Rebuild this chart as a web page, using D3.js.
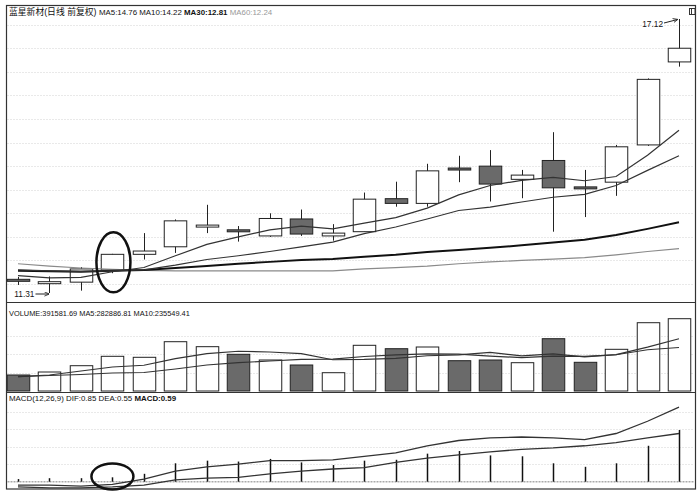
<!DOCTYPE html>
<html><head><meta charset="utf-8">
<script src="https://cdn.jsdelivr.net/npm/d3@7"></script>
<style>body{margin:0;background:#fff}svg{display:block}</style>
</head><body>
<svg id="c" width="700" height="491"></svg>
<script>
// ---------- data ----------
const days = d3.range(1, 23).map(d => "D" + d);
const opens  = [11.60,11.52,11.54,11.80,12.13,12.29,12.72,12.65,12.52,12.88,12.52,12.61,13.31,13.21,13.96,14.00,13.72,14.12,13.56,13.66,14.45,16.21];
const closes = [11.56,11.55,11.82,12.13,12.20,12.84,12.75,12.62,12.89,12.56,12.58,13.30,13.21,13.90,13.94,13.62,13.81,13.54,13.54,14.41,15.84,16.50];
const highs  = [11.65,11.66,11.86,12.14,12.58,12.87,13.18,12.73,13.00,13.08,12.77,13.44,13.67,14.05,14.22,14.34,13.92,14.72,13.92,14.45,15.86,17.12];
const lows   = [11.48,11.31,11.36,11.73,12.02,12.16,12.58,12.40,12.50,12.52,12.42,12.61,13.14,13.14,13.66,13.25,13.32,12.61,12.92,13.37,14.43,16.11];
const ma5  = [11.68,11.63,11.64,11.76,11.85,12.10,12.34,12.50,12.65,12.73,12.67,12.79,12.91,13.11,13.39,13.59,13.70,13.76,13.69,13.78,14.23,14.76];
const ma10 = [11.80,11.78,11.77,11.78,11.80,11.90,12.02,12.10,12.19,12.29,12.39,12.57,12.71,12.88,13.06,13.13,13.24,13.34,13.40,13.59,13.91,14.22];
const ma30 = [11.78,11.77,11.76,11.78,11.80,11.84,11.88,11.93,11.97,12.01,12.03,12.08,12.12,12.18,12.22,12.27,12.32,12.38,12.44,12.54,12.67,12.81];
const ma60 = [11.93,11.88,11.84,11.81,11.79,11.78,11.78,11.78,11.78,11.78,11.78,11.82,11.85,11.88,11.93,11.97,12.00,12.03,12.06,12.12,12.19,12.25];
const volumes = [86700,102900,137000,187900,182500,267000,240000,198800,167900,140800,99100,247500,229100,238300,164100,167900,153300,283300,155400,225800,369900,391581.69];
const volMa5  = [77400,86700,108300,130000,139400,175460,202880,215240,211240,202900,169320,170820,176880,190960,195620,209380,190540,201380,184800,197140,237540,282886.81];
const volMa10 = [77400,84000,89400,97500,100200,119000,140800,153300,162500,171150,172390,186850,196060,201100,199260,189350,180680,189130,187880,196380,223460,235549.41];
const dif  = [-0.04,-0.04,-0.05,-0.03,0.03,0.12,0.17,0.20,0.24,0.24,0.25,0.29,0.33,0.41,0.47,0.50,0.51,0.50,0.48,0.55,0.69,0.85];
const dea  = [-0.06,-0.07,-0.07,-0.06,-0.04,0.02,0.04,0.05,0.09,0.12,0.145,0.16,0.22,0.27,0.305,0.34,0.37,0.385,0.41,0.445,0.50,0.55];
const macd = [0.03,0.04,0.04,0.05,0.09,0.21,0.24,0.23,0.26,0.22,0.19,0.24,0.25,0.32,0.35,0.30,0.29,0.21,0.17,0.21,0.41,0.59];
const priceTicks = [11.5,12.0,12.5,13.0,13.5,14.0,14.5,15.0,15.5,16.0,16.5,17.0];
const volTicks = [100000,200000,300000];
const macdTicks = [0.2,0.4,0.6,0.8];
const stockName = "蓝星新材(日线 前复权)";
const maLabels = ["MA5:14.76","MA10:14.22","MA30:12.81","MA60:12.24"];
const volLabel = "VOLUME:391581.69 MA5:282886.81 MA10:235549.41";
const macdLabel = "MACD(12,26,9) DIF:0.85 DEA:0.55 ";
const macdVal = "MACD:0.59";
const highLabel = "17.12", lowLabel = "11.31";

// ---------- setup ----------
const svg = d3.select("#c");
const FONT = '"Liberation Sans", Arial, "Noto Sans CJK SC", sans-serif';
const L = 6.5, R = 695.5, T = 5.5, B = 489;
const x = d3.scalePoint().domain(days).range([18, 679]);
const bw = 22.5;
const y = d3.scaleLinear().domain([11.31, 17.12]).range([293, 19]);
const yv = d3.scaleLinear().domain([0, 391581.69]).range([391, 318.7]);
const ym = d3.scaleLinear().domain([0, 0.59]).range([481.7, 430]);
const down = i => closes[i] < opens[i];
const DARK = "#6a6a6a";

svg.append("defs").append("marker").attr("id","ah").attr("viewBox","0 0 6 6")
  .attr("refX",5.5).attr("refY",3).attr("markerWidth",5).attr("markerHeight",5).attr("orient","auto")
  .append("path").attr("d","M0,0.5 L6,3 L0,5.5").attr("fill","none").attr("stroke","#222").attr("stroke-width",1);

// grids
function grid(vals, sc){
  svg.append("g").selectAll("line").data(vals).join("line")
    .attr("x1", L+1).attr("x2", R-1).attr("y1", d => Math.round(sc(d))+0.5).attr("y2", d => Math.round(sc(d))+0.5)
    .attr("stroke","#d2d2d2").attr("stroke-width",1).attr("stroke-dasharray","1,2");
}
grid(priceTicks, y); grid(volTicks, yv); grid(macdTicks, ym);
svg.append("line").attr("x1",L+1).attr("x2",R-1).attr("y1",ym(0)).attr("y2",ym(0))
  .attr("stroke","#aaa").attr("stroke-width",1.5).attr("stroke-dasharray","2,1");

// candles
const cg = svg.append("g");
days.forEach((d,i) => {
  const cx = Math.round(x(d)) + 0.5;
  cg.append("line").attr("x1",cx).attr("x2",cx).attr("y1",y(highs[i])).attr("y2",y(lows[i]))
    .attr("stroke","#222").attr("stroke-width",1);
  const top = y(Math.max(opens[i],closes[i])), bot = y(Math.min(opens[i],closes[i]));
  const h = Math.max(bot-top, 2);
  cg.append("rect").attr("x",cx-bw/2).attr("y",top).attr("width",bw).attr("height",h)
    .attr("fill", down(i) ? DARK : "#fff").attr("stroke","#222").attr("stroke-width",1);
});

// MA lines
function ml(arr, sc, color, w){
  svg.append("path").datum(arr)
    .attr("d", d3.line().x((v,i)=>x(days[i])).y(v=>sc(v)))
    .attr("fill","none").attr("stroke",color).attr("stroke-width",w);
}
ml(ma60, y, "#8a8a8a", 1.2);
ml(ma30, y, "#111", 2);
ml(ma10, y, "#333", 1.2);
ml(ma5, y, "#333", 1.2);

// volume bars
svg.append("g").selectAll("rect").data(volumes).join("rect")
  .attr("x",(v,i)=>Math.round(x(days[i]))+0.5-bw/2).attr("y",v=>yv(v))
  .attr("width",bw).attr("height",v=>yv(0)-yv(v))
  .attr("fill",(v,i)=>down(i)?DARK:"#fff").attr("stroke","#222").attr("stroke-width",1);
ml(volMa10, yv, "#333", 1.2);
ml(volMa5, yv, "#333", 1.2);

// MACD
svg.append("g").selectAll("line").data(macd).join("line")
  .attr("x1",(v,i)=>Math.round(x(days[i]))+0.5).attr("x2",(v,i)=>Math.round(x(days[i]))+0.5)
  .attr("y1",ym(0)).attr("y2",v=>ym(v)).attr("stroke","#111").attr("stroke-width",1.5);
ml(dea, ym, "#333", 1.3);
ml(dif, ym, "#333", 1.3);

// frame & separators
svg.append("rect").attr("x",L).attr("y",T).attr("width",R-L).attr("height",B-T)
  .attr("fill","none").attr("stroke","#333").attr("stroke-width",1.2);
[302.5, 392.5].forEach(v => svg.append("line").attr("x1",L).attr("x2",R).attr("y1",v).attr("y2",v)
  .attr("stroke","#333").attr("stroke-width",1.2));
svg.append("rect").attr("x",689.5).attr("y",8.5).attr("width",5.5).attr("height",6)
  .attr("fill","#fff").attr("stroke","#333").attr("stroke-width",1);
svg.append("line").attr("x1",691.5).attr("x2",691.5).attr("y1",9).attr("y2",14).attr("stroke","#333");

// texts
const t = svg.append("text").attr("x",9).attr("y",15).attr("font-family",FONT).attr("font-size",7.9).attr("fill","#111")
  .attr("xml:space","preserve");
t.append("tspan").attr("font-size",8.8).text(stockName + " ");
t.append("tspan").text(maLabels[0] + " ");
t.append("tspan").text(maLabels[1] + " ");
t.append("tspan").attr("font-weight","bold").text(maLabels[2] + " ");
t.append("tspan").attr("fill","#999").text(maLabels[3]);

svg.append("text").attr("x",9).attr("y",315.5).attr("font-family",FONT).attr("font-size",7.4).attr("fill","#111")
  .text(volLabel);
const mt = svg.append("text").attr("x",9).attr("y",401).attr("font-family",FONT).attr("font-size",7.9).attr("fill","#111")
  .attr("xml:space","preserve");
mt.append("tspan").text(macdLabel);
mt.append("tspan").attr("font-weight","bold").text(macdVal);

// high / low annotations
const hx = x(days[21]), hy = y(highs[21]);
svg.append("text").attr("x",hx-16).attr("y",hy+8).attr("text-anchor","end").attr("font-family",FONT).attr("font-size",8.3).attr("fill","#111").text(highLabel);
svg.append("line").attr("x1",hx-15).attr("y1",hy+4).attr("x2",hx-1.5).attr("y2",hy+0.5)
  .attr("stroke","#222").attr("stroke-width",1).attr("marker-end","url(#ah)");
const lx = x(days[1]), ly = y(lows[1]);
svg.append("text").attr("x",lx-15).attr("y",ly+4).attr("text-anchor","end").attr("font-family",FONT).attr("font-size",8.3).attr("fill","#111").text(lowLabel);
svg.append("line").attr("x1",lx-14).attr("y1",ly+1).attr("x2",lx-0.5).attr("y2",ly+1)
  .attr("stroke","#222").attr("stroke-width",1).attr("marker-end","url(#ah)");

// highlight ellipses
svg.append("ellipse").attr("cx",x(days[3])+1).attr("cy",y(11.96)).attr("rx",17).attr("ry",30)
  .attr("fill","none").attr("stroke","#111").attr("stroke-width",2.5);
svg.append("ellipse").attr("cx",x(days[3])).attr("cy",ym(0.06)).attr("rx",21).attr("ry",13)
  .attr("fill","none").attr("stroke","#111").attr("stroke-width",2.5);
</script>
</body></html>
